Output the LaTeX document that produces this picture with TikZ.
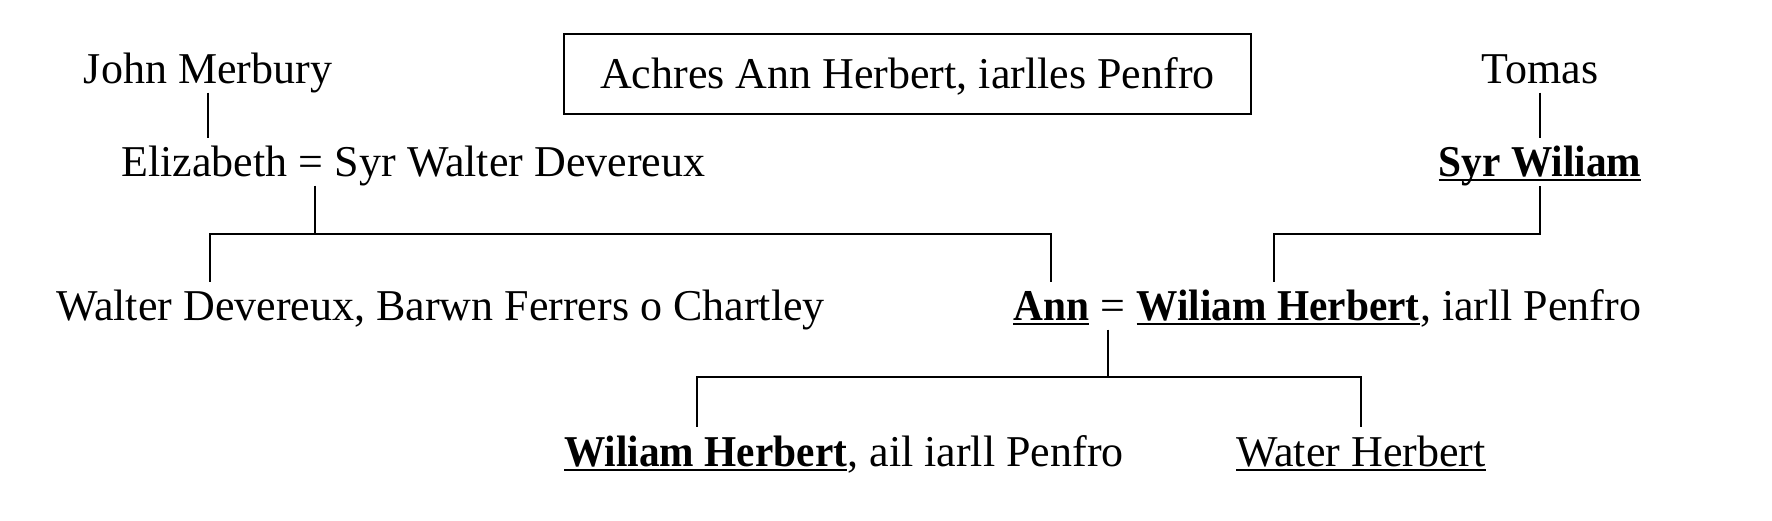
\documentclass[tikz,border=0pt]{standalone}
\usepackage{fontspec}
\setmainfont{Liberation Serif}[BoldFeatures={FakeStretch=0.94}]
\usetikzlibrary{calc}
\newcommand\ulin[1]{\setbox0\hbox{#1}\rlap{\rule[-4.6pt]{\wd0}{1.8pt}}\box0}
\begin{document}
\begin{tikzpicture}[x=1pt,y=-1pt, font=\fontsize{44}{50}\selectfont,
 txt/.style={inner sep=0pt, text height=31pt, text depth=9.5pt},
 conn/.style={line width=1.8pt}]
\useasboundingbox (0,0) rectangle (1772,520);
\node[draw, line width=2pt, minimum width=686.7pt, minimum height=79.7pt, inner sep=0pt, text height=31pt, text depth=3.4pt] (title) at (907.4,74.2) {Achres Ann Herbert, iarlles Penfro};
% row 1
\node[txt, anchor=base] (john) at (208,83) {John Merbury};
\node[txt, anchor=base] (tomas) at (1540,83) {Tomas};
% row 2
\node[txt, anchor=base west] (eliz) at (121,176) {Elizabeth};
\node[txt, anchor=base west] (eq1) at (eliz.base east) {\ =\ \null};
\node[txt, anchor=base west] (walt1) at (eq1.base east) {Syr Walter Devereux};
\node[txt, anchor=base] (syrw) at (1540,176.5) {\ulin{\textbf{Syr Wiliam}}};
% row 3
\node[txt, anchor=base west] (walt) at (56,320) {Walter Devereux, Barwn Ferrers o Chartley};
\node[txt, anchor=base west] (ann) at (1013,320) {\ulin{\textbf{Ann}}};
\node[txt, anchor=base west] (eq2) at (ann.base east) {\ =\ \null};
\node[txt, anchor=base west] (wh) at (eq2.base east) {\ulin{\textbf{Wiliam Herbert}}};
\node[txt, anchor=base west] (whr) at (wh.base east) {, iarll Penfro};
% row 4
\node[txt, anchor=base west] (wh2) at (564,466) {\ulin{\textbf{Wiliam Herbert}}};
\node[txt, anchor=base west] (wh2r) at (wh2.base east) {, ail iarll Penfro};
\node[txt, anchor=base] (water) at (1361,466) {\ulin{Water Herbert}};
% connectors
\coordinate (bar1) at (0,234.3);
\coordinate (bar2) at (0,377.3);
\coordinate (d1) at ($(eq1.south)+(4,0)$);
\coordinate (d2) at ($(eq2.south)+(-5,0)$);
\draw[conn] (john.south) -- ($(john.south |- eliz.north)+(0,-7)$);
\draw[conn] (tomas.south) -- ($(tomas.south |- syrw.north)+(0,-7)$);
\draw[conn] (d1) -- (d1 |- bar1) -| ($(walt.north west)+(154,-7)$);
\draw[conn] (d1 |- bar1) -| ($(ann.north)+(0,-7)$);
\draw[conn] (syrw.south) -- (syrw.south |- bar1) -| ($(wh.north)+(-4,-7)$);
\draw[conn] (d2) -- (d2 |- bar2) -| ($(wh2.north west)+(133,-8)$);
\draw[conn] (d2 |- bar2) -| ($(water.north)+(0,-8)$);
\end{tikzpicture}
\end{document}
